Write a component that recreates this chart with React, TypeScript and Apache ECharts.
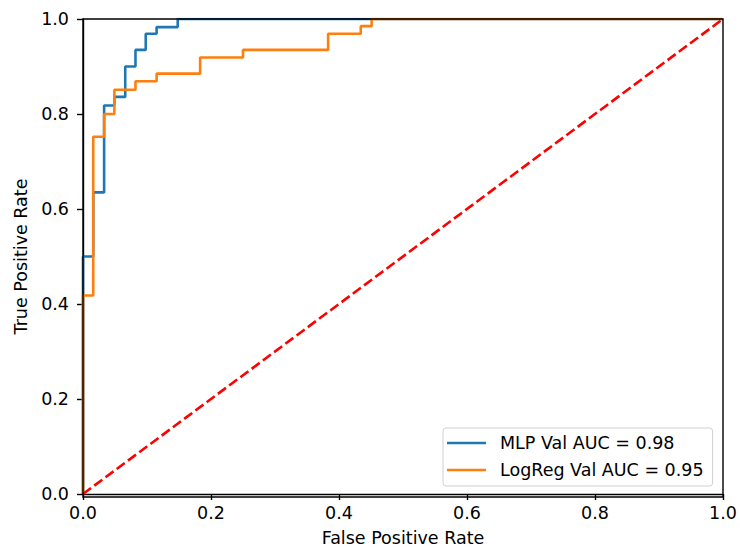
import React, { useEffect, useRef } from "react";
import * as echarts from "echarts";

const mlpFpr = [0, 0, 0.016, 0.016, 0.033, 0.033, 0.049, 0.049, 0.066, 0.066, 0.082, 0.082, 0.098, 0.098, 0.115, 0.115, 0.148, 0.148, 1];
const mlpTpr = [0, 0.5, 0.5, 0.635, 0.635, 0.818, 0.818, 0.836, 0.836, 0.9, 0.9, 0.935, 0.935, 0.969, 0.969, 0.983, 0.983, 1, 1];

const lrFpr = [0, 0, 0.016, 0.016, 0.033, 0.033, 0.049, 0.049, 0.082, 0.082, 0.115, 0.115, 0.183, 0.183, 0.25, 0.25, 0.383, 0.383, 0.434, 0.434, 0.451, 0.451, 1];
const lrTpr = [0, 0.418, 0.418, 0.752, 0.752, 0.8, 0.8, 0.851, 0.851, 0.869, 0.869, 0.885, 0.885, 0.919, 0.919, 0.935, 0.935, 0.969, 0.969, 0.985, 0.985, 1, 1];

const diagX = [0, 1];
const diagY = [0, 1];

const seriesNames = ["MLP Val AUC = 0.98", "LogReg Val AUC = 0.95"];

const FONT = "DejaVu Sans";
const FS = 17.5;

const G_LEFT = 83;
const G_TOP = 19;
const G_W = 640;
const G_H = 478;

function pairs(xs: number[], ys: number[]) {
  return xs.map((x, i) => [x, ys[i]]);
}

export default function App() {
  const ref = useRef<HTMLDivElement>(null);
  useEffect(() => {
    if (!ref.current) return;
    const chart = echarts.init(ref.current, null, { renderer: "svg" });
    const axisCommon = {
      type: "value" as const,
      min: 0,
      max: 1,
      interval: 0.2,
      splitLine: { show: false },
      axisLine: { show: true, lineStyle: { color: "#000", width: 1.4 } },
      axisTick: { show: true, length: 6, lineStyle: { color: "#000", width: 1.4 } },
      axisLabel: {
        color: "#000",
        fontFamily: FONT,
        fontSize: FS,
        formatter: (v: number) => v.toFixed(1),
      },
      nameLocation: "middle" as const,
      nameTextStyle: { color: "#000", fontFamily: FONT, fontSize: FS },
    };
    chart.setOption({
      animation: false,
      backgroundColor: "#fff",
      textStyle: { fontFamily: FONT },
      grid: {
        left: G_LEFT,
        top: G_TOP,
        width: G_W,
        height: G_H,
        show: false,
      },
      xAxis: {
        ...axisCommon,
        name: "False Positive Rate",
        nameGap: 35,
        axisLabel: { ...axisCommon.axisLabel, margin: 10 },
      },
      yAxis: {
        ...axisCommon,
        name: "True Positive Rate",
        nameGap: 48,
        axisLabel: { ...axisCommon.axisLabel, margin: 14 },
      },
      legend: {
        data: seriesNames,
        orient: "vertical",
        left: 443,
        top: 428,
        padding: [6, 9, 7, 4],
        itemGap: 9,
        itemWidth: 39,
        itemHeight: 2.5,
        icon: "rect",
        borderColor: "#d0d0d0",
        borderWidth: 1,
        borderRadius: 3,
        backgroundColor: "rgba(255,255,255,0.8)",
        textStyle: {
          color: "#000",
          fontFamily: FONT,
          fontSize: FS,
          lineHeight: 18,
          padding: [0, 0, 0, 9],
        },
      },
      graphic: [
        {
          type: "rect",
          z: 100,
          silent: true,
          shape: { x: G_LEFT, y: G_TOP, width: G_W, height: G_H },
          style: { fill: "none", stroke: "#000", lineWidth: 1.4 },
        },
      ],
      series: [
        {
          name: seriesNames[0],
          type: "line",
          data: pairs(mlpFpr, mlpTpr),
          symbol: "none",
          color: "#1f77b4",
          lineStyle: { color: "#1f77b4", width: 2.6 },
        },
        {
          name: seriesNames[1],
          type: "line",
          data: pairs(lrFpr, lrTpr),
          symbol: "none",
          color: "#ff7f0e",
          lineStyle: { color: "#ff7f0e", width: 2.6 },
        },
        {
          name: "diag",
          type: "line",
          data: pairs(diagX, diagY),
          symbol: "none",
          color: "red",
          lineStyle: { color: "red", width: 2.6, type: [10, 4] },
        },
      ],
    });
    return () => chart.dispose();
  }, []);
  return <div ref={ref} style={{ width: 740, height: 552, position: "absolute", left: 0, top: 0 }} />;
}
